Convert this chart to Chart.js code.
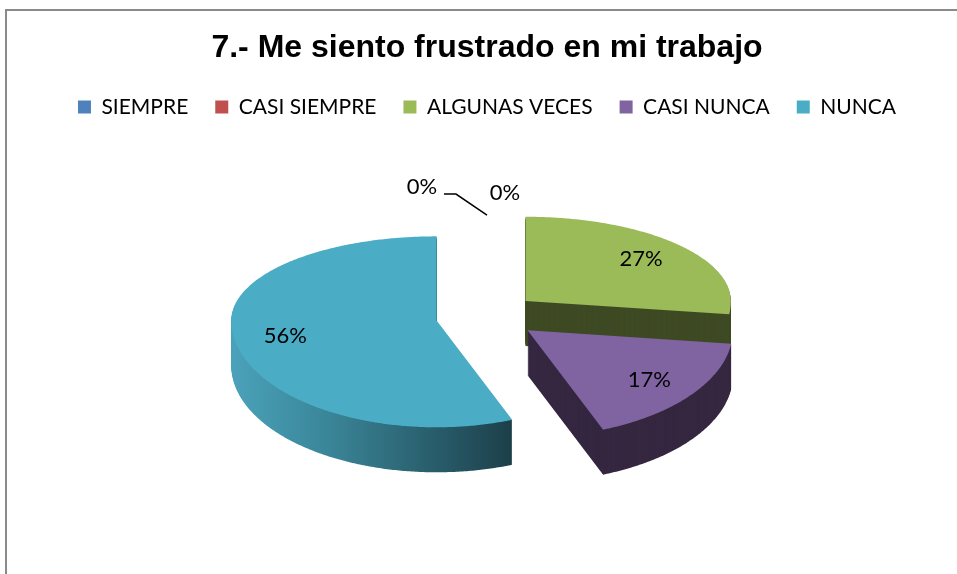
<!DOCTYPE html>
<html>
<head>
<meta charset="utf-8">
<script src="https://cdn.jsdelivr.net/npm/chart.js@4.4.0/dist/chart.umd.min.js"></script>
<style>
  html, body { margin: 0; padding: 0; background: #fff; }
  .marco { position: absolute; left: 5px; top: 9px; width: 980px; height: 600px; border: 2px solid #8a8a8a; }
  .contenedor { position: absolute; left: 0; top: 0; width: 957px; height: 574px; }
</style>
</head>
<body>
<div class="marco"></div>
<div class="contenedor"><canvas id="grafico" width="957" height="574"></canvas></div>
<script>
const titulo = '7.- Me siento frustrado en mi trabajo';
const categorias = ['SIEMPRE', 'CASI SIEMPRE', 'ALGUNAS VECES', 'CASI NUNCA', 'NUNCA'];
const valores = [0, 0, 27, 17, 56];

const colores = ['#4F81BD', '#C0504D', '#9BBB59', '#8064A2', '#4BACC6'];
const coloresLado = ['#2b4668', '#6b2b29', '#3e4a23', '#352740', null];

// efecto 3D hecho a mano (Chart.js no trae pastel 3D)
const ESTIRAR = 1.0875;
const ARRIBA = 0.41;     // mitad de atras mas aplastada (perspectiva)
const ABAJO = 0.52;
const INCLINACION = 0.45;
const PROFUNDIDAD = 0.22;
const SEPARACION = 0.25;

const pastel3d = {
    id: 'pastel3d',
    beforeDatasetsDraw(chart) {
        const ctx = chart.ctx;
        const arcos = chart.getDatasetMeta(0).data;
        const total = valores.reduce((a, b) => a + b, 0);
        const cx = arcos[0].x, cy = arcos[0].y;
        const rx = arcos[0].outerRadius * ESTIRAR;
        const prof = Math.round(rx * PROFUNDIDAD);
        const sep = rx * SEPARACION;

        const porciones = arcos.map((a, i) => {
            const medio = (a.startAngle + a.endAngle) / 2;
            return {
                i, a, medio,
                vx: cx + Math.cos(medio) * sep,
                vy: cy + Math.sin(medio) * sep * INCLINACION
            };
        });

        const punto = (x, y, t, f) => {
            const s = Math.sin(t);
            return [x + Math.cos(t) * rx * f, y + s * rx * f * (s < 0 ? ARRIBA : ABAJO)];
        };

        const trazar = (p, dz) => {
            const y = p.vy + dz;
            ctx.beginPath();
            ctx.moveTo(p.vx, y);
            const a0 = p.a.startAngle, a1 = p.a.endAngle;
            const pasos = Math.max(2, Math.ceil((a1 - a0) / 0.01));
            for (let k = 0; k <= pasos; k++) {
                const [x1, y1] = punto(p.vx, y, a0 + (a1 - a0) * k / pasos, 1);
                ctx.lineTo(x1, y1);
            }
            ctx.closePath();
        };

        ctx.save();
        porciones.filter(p => valores[p.i] > 0)
            .sort((p, q) => p.vy - q.vy)
            .forEach(p => {
                let lado = coloresLado[p.i];
                if (!lado) {
                    lado = ctx.createLinearGradient(p.vx - rx, 0, p.vx + rx * 0.36, 0);
                    lado.addColorStop(0, '#4aa2ba');
                    lado.addColorStop(0.35, '#3a8598');
                    lado.addColorStop(1, '#1c404a');
                }
                ctx.fillStyle = lado;
                for (let dz = prof; dz > 0; dz--) {
                    trazar(p, dz);
                    ctx.fill();
                }
                ctx.fillStyle = colores[p.i];
                trazar(p, 0);
                ctx.fill();
            });

        // etiquetas de porcentaje
        ctx.fillStyle = '#000';
        ctx.font = '22px Lato';
        ctx.textAlign = 'center';
        ctx.textBaseline = 'middle';
        porciones.forEach(p => {
            if (valores[p.i] > 0) {
                const pct = Math.round(valores[p.i] / total * 100) + '%';
                const [lx, ly] = punto(p.vx, p.vy, p.medio, 0.75);
                ctx.fillText(pct, lx, ly);
            }
        });

        // las porciones en cero van afuera, arriba, con linea guia
        const ceros = porciones.filter(p => valores[p.i] === 0);
        const ax = cx, ay = cy - rx * ARRIBA;
        if (ceros.length) {
            ctx.strokeStyle = '#000';
            ctx.lineWidth = 1.5;
            ctx.beginPath();
            ctx.moveTo(ax, ay - 17);
            ctx.lineTo(ax - 31, ay - 38);
            ctx.lineTo(ax - 43, ay - 38);
            ctx.stroke();
            ctx.fillText(Math.round(valores[ceros[0].i] / total * 100) + '%', ax - 65, ay - 45);
            if (ceros.length > 1) {
                ctx.fillText(Math.round(valores[ceros[1].i] / total * 100) + '%', ax + 18, ay - 39);
            }
        }
        ctx.restore();
        return false;
    }
};

new Chart(document.getElementById('grafico'), {
    type: 'pie',
    data: {
        labels: categorias,
        datasets: [{
            data: valores,
            backgroundColor: colores,
            borderWidth: 0
        }]
    },
    options: {
        responsive: false,
        animation: false,
        events: [],
        layout: { padding: { left: 17, right: 0, top: 0, bottom: 69 } },
        plugins: {
            title: {
                display: true,
                text: titulo,
                color: '#000',
                font: { family: 'Liberation Sans', size: 32, weight: 'bold' },
                padding: { top: 29, bottom: 2 }
            },
            legend: {
                position: 'top',
                labels: {
                    boxWidth: 13,
                    boxHeight: 13,
                    color: '#000',
                    font: { family: 'Lato', size: 21 },
                    padding: 27
                }
            },
            tooltip: { enabled: false }
        }
    },
    plugins: [pastel3d]
});
</script>
</body>
</html>
